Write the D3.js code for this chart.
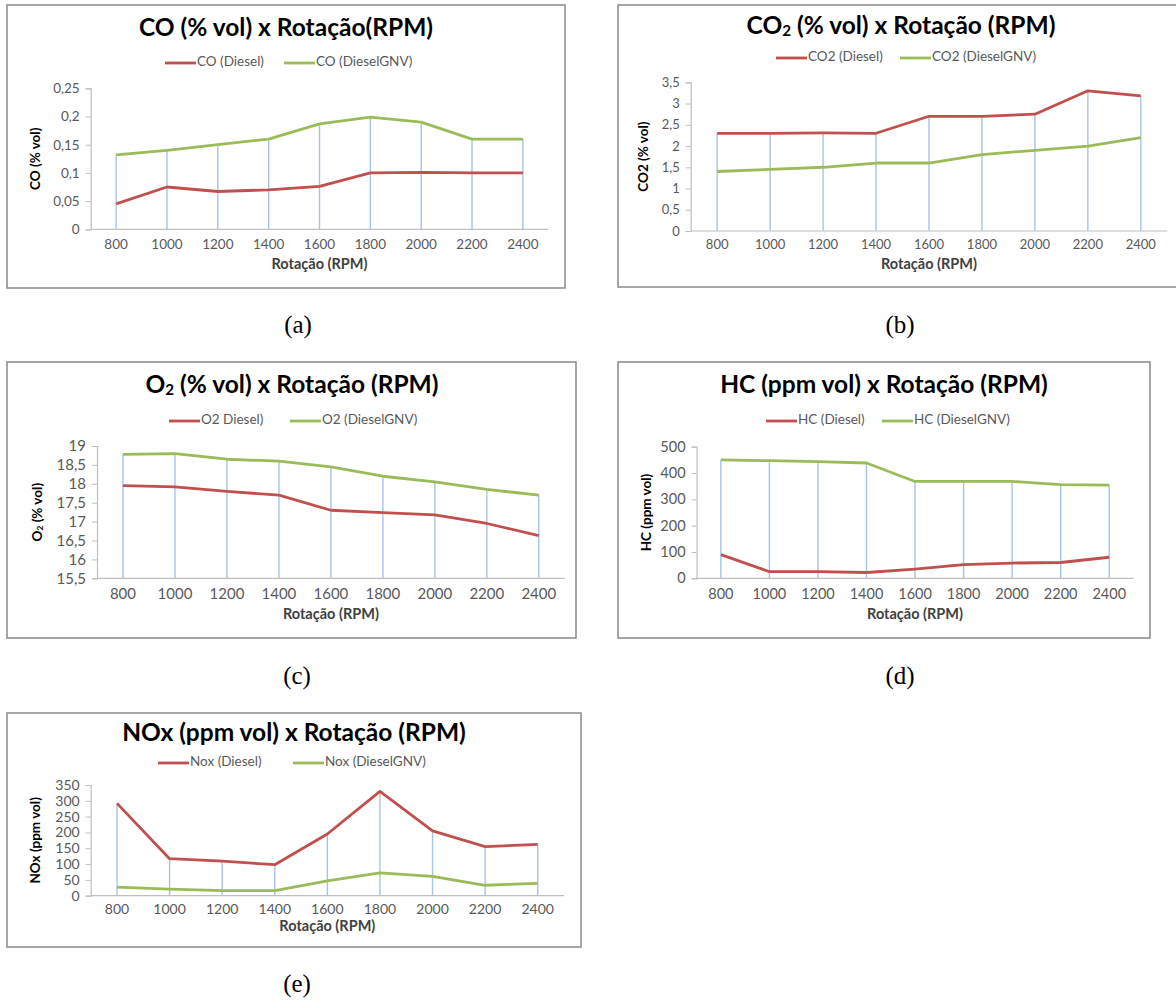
<!DOCTYPE html>
<html>
<head>
<meta charset="utf-8">
<script src="https://cdn.jsdelivr.net/npm/d3@7"></script>
<style>
  body { margin: 0; background: #fff; }
  svg { display: block; }
</style>
</head>
<body>
<div id="chart"></div>
<script>
// RPM categories shared by every panel
const rpm = ['800', '1000', '1200', '1400', '1600', '1800', '2000', '2200', '2400'];

const coDiesel = [0.045, 0.075, 0.067, 0.07, 0.076, 0.1, 0.101, 0.1, 0.1];
const coGnv = [0.132, 0.14, 0.15, 0.16, 0.187, 0.199, 0.19, 0.16, 0.16];
const coTicks = [0, 0.05, 0.1, 0.15, 0.2, 0.25];

const co2Diesel = [2.3, 2.3, 2.31, 2.3, 2.7, 2.7, 2.75, 3.3, 3.18];
const co2Gnv = [1.4, 1.45, 1.5, 1.6, 1.6, 1.8, 1.9, 2.0, 2.2];
const co2Ticks = [0, 0.5, 1, 1.5, 2, 2.5, 3, 3.5];

const o2Diesel = [17.95, 17.92, 17.8, 17.7, 17.3, 17.24, 17.18, 16.95, 16.63];
const o2Gnv = [18.78, 18.8, 18.65, 18.6, 18.45, 18.2, 18.05, 17.85, 17.7];
const o2Ticks = [15.5, 16, 16.5, 17, 17.5, 18, 18.5, 19];

const hcDiesel = [90, 25, 25, 22, 35, 52, 58, 60, 80];
const hcGnv = [450, 447, 443, 438, 368, 368, 368, 356, 354];
const hcTicks = [0, 100, 200, 300, 400, 500];

const noxDiesel = [292, 117, 109, 98, 195, 330, 205, 155, 162];
const noxGnv = [27, 21, 16, 16, 47, 72, 61, 33, 39];
const noxTicks = [0, 50, 100, 150, 200, 250, 300, 350];

const RED = '#C0504D';
const GREEN = '#9BBB59';
const DROP = '#A7C3EC';
const AXIS = '#BFBFBF';
const TEXT = '#595959';
const FONT = 'Lato, "Open Sans", sans-serif';

const W = 1176;
const H = 1001;

const svg = d3.select('#chart').append('svg').attr('width', W).attr('height', H);

// title / axis label pieces: [text, isSubscript]
const panels = [
  {
    box: [7, 5, 565, 288], plotX: [90.7, 548.3], plotY: [88.3, 229.3],
    title: [['CO (% vol) x Rotação(RPM)', false]], titleAt: [286, 30],
    legend: ['CO (Diesel)', 'CO (DieselGNV)'], legendX: [165, 284], legendY: 63,
    yTitle: [['CO (% vol)', false]], yTitleX: 37,
    series: [coDiesel, coGnv], ticks: coTicks, domain: [0, 0.25],
    tickSize: 13.5, xLabelY: 246, xTitleY: 265, caption: '(a)', captionAt: [298, 327],
  },
  {
    box: [618, 5, 1190, 287], plotX: [690.7, 1167.3], plotY: [82.3, 231],
    title: [['CO', false], ['2', true], [' (% vol) x Rotação (RPM)', false]], titleAt: [901, 28],
    legend: ['CO2 (Diesel)', 'CO2 (DieselGNV)'], legendX: [776, 900], legendY: 58,
    yTitle: [['CO2 (% vol)', false]], yTitleX: 645,
    series: [co2Diesel, co2Gnv], ticks: co2Ticks, domain: [0, 3.5],
    tickSize: 13, xLabelY: 246, xTitleY: 265, caption: '(b)', captionAt: [900, 327],
  },
  {
    box: [7, 362, 576, 638], plotX: [97, 564.8], plotY: [446, 578.3],
    title: [['O', false], ['2', true], [' (% vol) x Rotação (RPM)', false]], titleAt: [292, 387],
    legend: ['O2 Diesel)', 'O2 (DieselGNV)'], legendX: [169, 290], legendY: 421,
    yTitle: [['O', false], ['2', true], [' (% vol)', false]], yTitleX: 39,
    series: [o2Diesel, o2Gnv], ticks: o2Ticks, domain: [15.5, 19],
    tickSize: 15, xLabelY: 595, xTitleY: 615, caption: '(c)', captionAt: [297, 678],
  },
  {
    box: [618, 362, 1150, 638], plotX: [696.6, 1133.5], plotY: [446.7, 578.3],
    title: [['HC (ppm vol) x Rotação (RPM)', false]], titleAt: [884, 387],
    legend: ['HC (Diesel)', 'HC (DieselGNV)'], legendX: [766, 882], legendY: 421,
    yTitle: [['HC (ppm vol)', false]], yTitleX: 648,
    series: [hcDiesel, hcGnv], ticks: hcTicks, domain: [0, 500],
    tickSize: 14.5, xLabelY: 595, xTitleY: 615, caption: '(d)', captionAt: [900, 678],
  },
  {
    box: [7, 713, 581, 947], plotX: [90.7, 564], plotY: [785, 895.7],
    title: [['NOx (ppm vol) x Rotação (RPM)', false]], titleAt: [294, 735],
    legend: ['Nox (Diesel)', 'Nox (DieselGNV)'], legendX: [158, 293], legendY: 763,
    yTitle: [['NOx (ppm vol)', false]], yTitleX: 37,
    series: [noxDiesel, noxGnv], ticks: noxTicks, domain: [0, 350],
    tickSize: 14, xLabelY: 910, xTitleY: 927, caption: '(e)', captionAt: [297, 986],
  },
];

const fmt = (d) => String(+d.toFixed(2)).replace('.', ',');

const addPieces = (text, pieces, size) => {
  pieces.forEach(([s, sub]) => {
    const t = text.append('tspan').text(s);
    if (sub) t.attr('font-size', size * 0.62).attr('baseline-shift', '-25%');
  });
};

const drawPanel = (p) => {
  const g = svg.append('g');
  const [bx0, by0, bx1, by1] = p.box;

  g.append('rect')
    .attr('x', bx0).attr('y', by0)
    .attr('width', bx1 - bx0).attr('height', by1 - by0)
    .attr('fill', '#fff').attr('stroke', '#8A8A8A').attr('stroke-width', 1.5);

  const x = d3.scalePoint().domain(rpm).range(p.plotX).padding(0.5);
  const y = d3.scaleLinear().domain(p.domain).range([p.plotY[1], p.plotY[0]]);

  // drop lines from the highest series down to the axis
  g.append('g')
    .selectAll('line')
    .data(rpm)
    .join('line')
    .attr('x1', (d) => x(d)).attr('x2', (d) => x(d))
    .attr('y1', (d, i) => y(d3.max(p.series, (s) => s[i])))
    .attr('y2', y(p.domain[0]))
    .attr('stroke', DROP).attr('stroke-width', 1.4);

  // x axis line + category labels
  g.append('line')
    .attr('x1', p.plotX[0]).attr('x2', p.plotX[1])
    .attr('y1', y(p.domain[0])).attr('y2', y(p.domain[0]))
    .attr('stroke', AXIS).attr('stroke-width', 1.2);

  g.append('g')
    .selectAll('text')
    .data(rpm)
    .join('text')
    .attr('x', (d) => x(d)).attr('y', p.xLabelY)
    .attr('text-anchor', 'middle').attr('dominant-baseline', 'middle')
    .attr('font-family', FONT).attr('font-size', p.tickSize).attr('fill', TEXT)
    .text((d) => d);

  // y axis
  const yAxis = d3.axisLeft(y).tickValues(p.ticks).tickSize(5).tickPadding(6).tickFormat(fmt);
  const ya = g.append('g').attr('transform', `translate(${p.plotX[0]},0)`).call(yAxis);
  ya.select('.domain').attr('stroke', AXIS).attr('stroke-width', 1.2);
  ya.selectAll('.tick line').attr('stroke', AXIS);
  ya.selectAll('.tick text')
    .attr('font-family', FONT).attr('font-size', p.tickSize).attr('fill', TEXT);

  // series lines
  const line = d3.line().x((d, i) => x(rpm[i])).y((d) => y(d));
  [RED, GREEN].forEach((c, k) => {
    g.append('path')
      .datum(p.series[k])
      .attr('fill', 'none').attr('stroke', c).attr('stroke-width', 2.8)
      .attr('stroke-linejoin', 'round')
      .attr('d', line);
  });

  // title
  const title = g.append('text')
    .attr('x', p.titleAt[0]).attr('y', p.titleAt[1])
    .attr('text-anchor', 'middle').attr('dominant-baseline', 'middle')
    .attr('font-family', FONT).attr('font-weight', 'bold').attr('font-size', 24.5).attr('fill', '#000');
  addPieces(title, p.title, 24.5);

  // legend
  p.legend.forEach((name, k) => {
    const lx = p.legendX[k];
    g.append('line')
      .attr('x1', lx).attr('x2', lx + 31)
      .attr('y1', p.legendY).attr('y2', p.legendY)
      .attr('stroke', k === 0 ? RED : GREEN).attr('stroke-width', 2.8);
    g.append('text')
      .attr('x', lx + 32).attr('y', p.legendY)
      .attr('dominant-baseline', 'middle')
      .attr('font-family', FONT).attr('font-size', 13.5).attr('fill', TEXT)
      .text(name);
  });

  // axis titles
  g.append('text')
    .attr('x', (p.plotX[0] + p.plotX[1]) / 2).attr('y', p.xTitleY)
    .attr('text-anchor', 'middle').attr('dominant-baseline', 'middle')
    .attr('font-family', FONT).attr('font-weight', 'bold').attr('font-size', 14.5).attr('fill', '#404040')
    .text('Rotação (RPM)');

  const yt = g.append('text')
    .attr('transform', `translate(${p.yTitleX},${(p.plotY[0] + p.plotY[1]) / 2}) rotate(-90)`)
    .attr('text-anchor', 'middle').attr('dominant-baseline', 'middle')
    .attr('font-family', FONT).attr('font-weight', 'bold').attr('font-size', 13.5).attr('fill', '#000');
  addPieces(yt, p.yTitle, 13.5);

  // caption below the box
  svg.append('text')
    .attr('x', p.captionAt[0]).attr('y', p.captionAt[1])
    .attr('text-anchor', 'middle').attr('dominant-baseline', 'middle')
    .attr('font-family', '"Liberation Serif", "Times New Roman", serif').attr('font-size', 25).attr('fill', '#000')
    .text(p.caption);
};

panels.forEach(drawPanel);
</script>
</body>
</html>
